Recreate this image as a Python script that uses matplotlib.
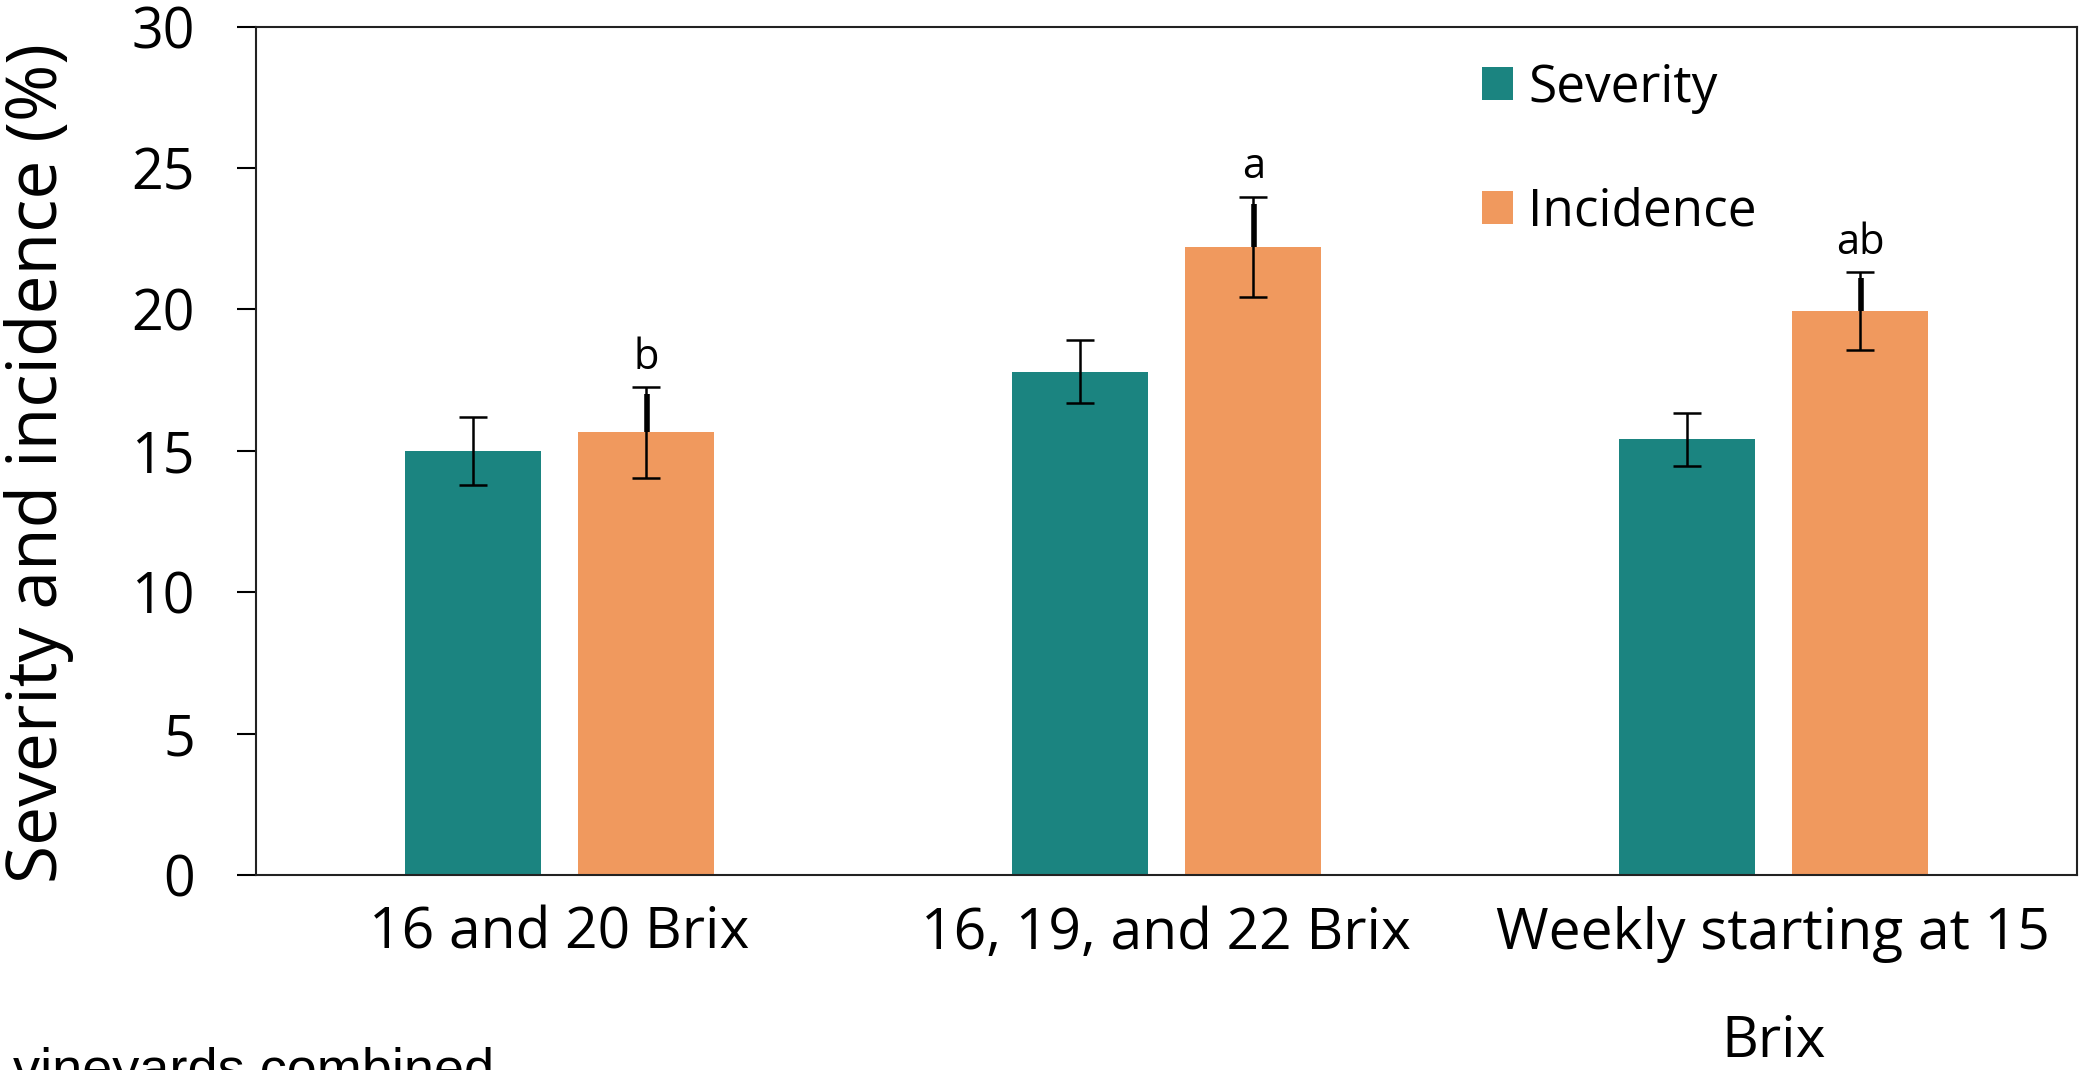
import numpy as np
import matplotlib.pyplot as plt

categories = ['16 and 20 Brix', '16, 19, and 22 Brix', 'Weekly starting at 15\nBrix']
severity = [15.0, 17.8, 15.4]
severity_err = [1.2, 1.1, 0.95]
incidence = [15.65, 22.2, 19.95]
incidence_err = [1.6, 1.78, 1.37]
letters = ['b', 'a', 'ab']

teal = '#1b8480'
orange = '#f0995e'

plt.rcParams['font.family'] = ['Open Sans', 'DejaVu Sans']

fig = plt.figure(figsize=(20.79, 10.70), dpi=100)
ax = fig.add_axes([0.1231, 0.1822, 0.8759, 0.7930])

x = np.arange(len(categories))
w = 0.224
off = 0.143

ax.bar(x - off, severity, w, color=teal, label='Severity', zorder=2)
ax.bar(x + off, incidence, w, color=orange, label='Incidence', zorder=2)
ax.errorbar(x - off, severity, yerr=severity_err, fmt='none', ecolor='black',
            elinewidth=1.8, capsize=10, capthick=1.8, zorder=3)
ax.errorbar(x + off, incidence, yerr=incidence_err, fmt='none', ecolor='black',
            elinewidth=1.8, capsize=10, capthick=1.8, zorder=3)
# upper whisker on incidence looks heavier
ax.vlines(x + off + 0.002, incidence, np.array(incidence) + np.array(incidence_err) * 0.85,
          color='black', lw=4, zorder=3)

for xi, v, e, t in zip(x + off, incidence, incidence_err, letters):
    ax.annotate(t, (xi, v + e), xytext=(0, 6), textcoords='offset points',
                ha='center', va='bottom', fontsize=30)

ax.set_xlim(-0.5, 2.5)
ax.set_ylim(0, 30)
ax.set_yticks(range(0, 31, 5))
ax.set_xticks(x)
ax.set_xticklabels(categories, fontsize=41, linespacing=2.2)
ax.tick_params(axis='x', length=0, pad=22)
ax.tick_params(axis='y', length=14, width=1.5, pad=30, labelsize=40, direction='out')
ax.set_ylabel('Severity and incidence (%)', fontsize=50)
ax.yaxis.set_label_coords(-0.100, 0.486)

for s in ax.spines.values():
    s.set_linewidth(1.5)
    s.set_color('#222222')

ax.legend(loc='upper left', bbox_to_anchor=(0.648, 1.012), frameon=False, fontsize=37,
          handlelength=0.6, handleheight=0.6, handletextpad=0.3, labelspacing=1.42)

fig.text(13 / 2079, -16 / 1070, 'vineyards combined', fontsize=39,
         family='Liberation Sans', va='baseline', ha='left')

fig.savefig('out.png', dpi=100)
